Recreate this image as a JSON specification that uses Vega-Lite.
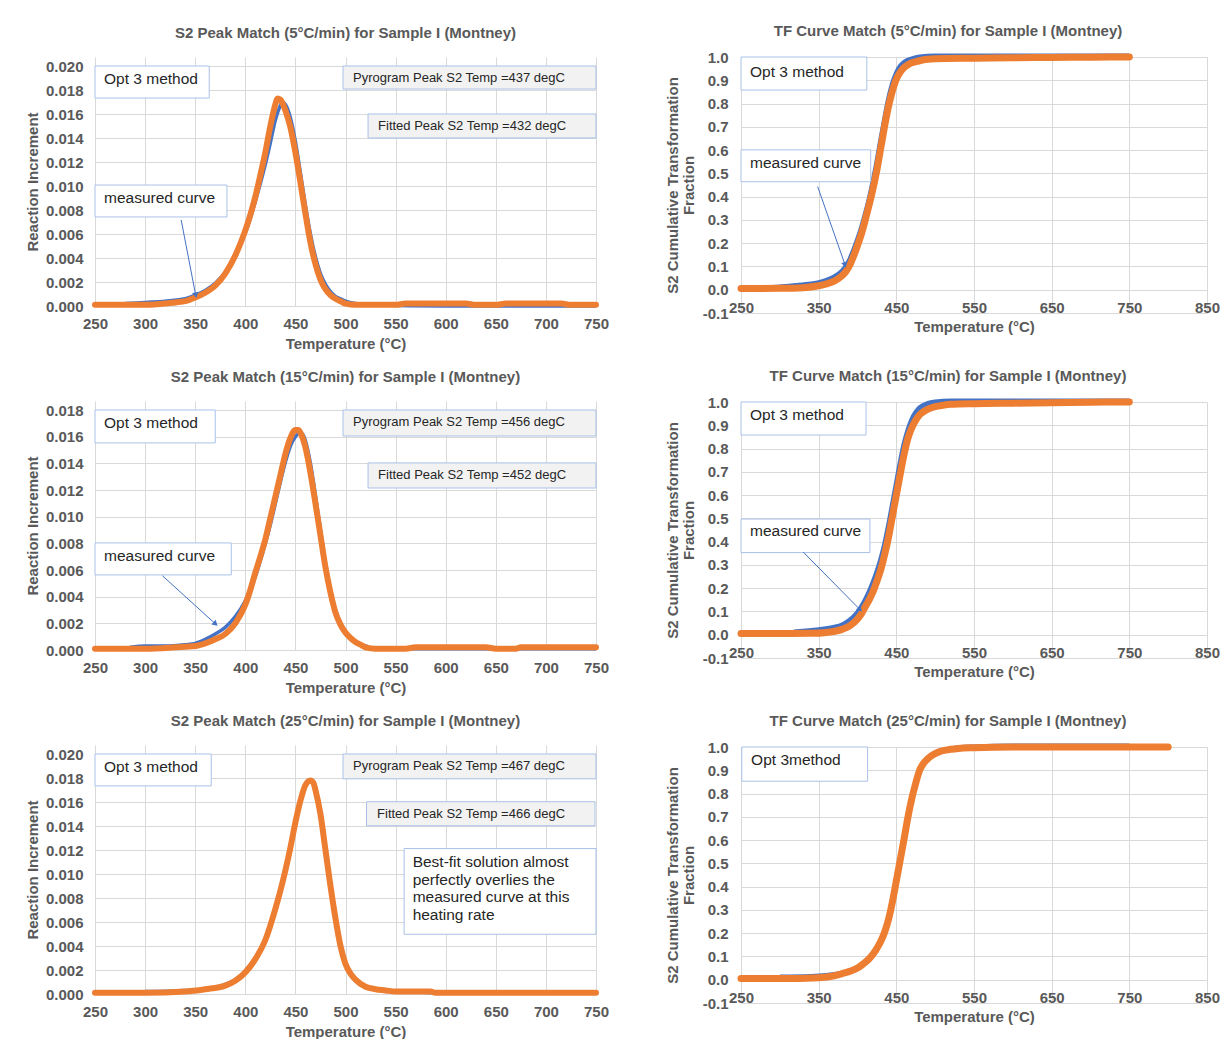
{
  "$schema": "https://vega.github.io/schema/vega-lite/v6.json",
  "background": "white",
  "padding": {"left": 25, "top": 24, "right": 0, "bottom": 0},
  "config": {
    "font": "Liberation Sans",
    "view": {"stroke": null},
    "axis": {"grid": true, "gridColor": "#D9D9D9", "gridWidth": 1, "domain": false, "ticks": false, "labelFlush": false, "labelFont": "Liberation Sans", "labelFontWeight": "bold", "labelFontSize": 15, "labelColor": "#595959", "titleFont": "Liberation Sans", "titleFontSize": 15, "titleFontWeight": "bold", "titleColor": "#595959"},
    "title": {"font": "Liberation Sans", "fontSize": 15, "fontWeight": "bold", "color": "#595959"}
  },
  "datasets": {
    "L5_fitted": [{"temp":250,"value":0.0001},{"temp":275,"value":0.0001},{"temp":300,"value":0.0001},{"temp":320,"value":0.0002},{"temp":330,"value":0.0003},{"temp":340,"value":0.0004},{"temp":350,"value":0.0007},{"temp":360,"value":0.0011},{"temp":370,"value":0.0017},{"temp":380,"value":0.0027},{"temp":390,"value":0.0042},{"temp":400,"value":0.0063},{"temp":405,"value":0.0076},{"temp":410,"value":0.0091},{"temp":415,"value":0.0109},{"temp":420,"value":0.0128},{"temp":425,"value":0.0150},{"temp":430,"value":0.0168},{"temp":432,"value":0.0173},{"temp":435,"value":0.0172},{"temp":440,"value":0.0163},{"temp":445,"value":0.0149},{"temp":450,"value":0.0128},{"temp":455,"value":0.0103},{"temp":460,"value":0.0077},{"temp":465,"value":0.0053},{"temp":470,"value":0.0035},{"temp":475,"value":0.0022},{"temp":480,"value":0.0014},{"temp":485,"value":0.0009},{"temp":490,"value":0.0006},{"temp":495,"value":0.0004},{"temp":500,"value":0.0002},{"temp":510,"value":0.0001},{"temp":550,"value":0.0001},{"temp":560,"value":0.0002},{"temp":620,"value":0.0002},{"temp":630,"value":0.0001},{"temp":650,"value":0.0001},{"temp":660,"value":0.0002},{"temp":715,"value":0.0002},{"temp":725,"value":0.0001},{"temp":750,"value":0.0001}],
    "L5_measured": [{"temp":280,"value":0.0002},{"temp":300,"value":0.0003},{"temp":320,"value":0.0004},{"temp":340,"value":0.0006},{"temp":350,"value":0.0009},{"temp":360,"value":0.0013},{"temp":370,"value":0.0019},{"temp":380,"value":0.0028},{"temp":390,"value":0.0042},{"temp":400,"value":0.0061},{"temp":405,"value":0.0073},{"temp":410,"value":0.0087},{"temp":415,"value":0.0102},{"temp":420,"value":0.0118},{"temp":425,"value":0.0136},{"temp":430,"value":0.0155},{"temp":435,"value":0.0167},{"temp":437,"value":0.0170},{"temp":440,"value":0.0168},{"temp":445,"value":0.0157},{"temp":450,"value":0.0137},{"temp":455,"value":0.0111},{"temp":460,"value":0.0084},{"temp":465,"value":0.0060},{"temp":470,"value":0.0041},{"temp":475,"value":0.0027},{"temp":480,"value":0.0018},{"temp":485,"value":0.0012},{"temp":490,"value":0.0008},{"temp":495,"value":0.0006},{"temp":500,"value":0.0004},{"temp":510,"value":0.0002},{"temp":525,"value":0.0001},{"temp":600,"value":0.0000},{"temp":750,"value":0.0000}],
    "L15_fitted": [{"temp":250,"value":0.0001},{"temp":300,"value":0.0001},{"temp":330,"value":0.0002},{"temp":350,"value":0.0003},{"temp":360,"value":0.0005},{"temp":370,"value":0.0008},{"temp":380,"value":0.0012},{"temp":390,"value":0.0020},{"temp":400,"value":0.0034},{"temp":405,"value":0.0045},{"temp":410,"value":0.0058},{"temp":415,"value":0.0070},{"temp":420,"value":0.0083},{"temp":425,"value":0.0099},{"temp":430,"value":0.0115},{"temp":435,"value":0.0131},{"temp":440,"value":0.0147},{"temp":445,"value":0.0159},{"temp":450,"value":0.0165},{"temp":453,"value":0.0165},{"temp":455,"value":0.0163},{"temp":460,"value":0.0152},{"temp":465,"value":0.0133},{"temp":470,"value":0.0110},{"temp":475,"value":0.0086},{"temp":480,"value":0.0062},{"temp":485,"value":0.0043},{"temp":490,"value":0.0028},{"temp":495,"value":0.0019},{"temp":500,"value":0.0013},{"temp":505,"value":0.0009},{"temp":510,"value":0.0006},{"temp":515,"value":0.0004},{"temp":520,"value":0.0002},{"temp":530,"value":0.0001},{"temp":560,"value":0.0001},{"temp":570,"value":0.0002},{"temp":640,"value":0.0002},{"temp":650,"value":0.0001},{"temp":670,"value":0.0001},{"temp":675,"value":0.0002},{"temp":750,"value":0.0002}],
    "L15_measured": [{"temp":285,"value":0.0002},{"temp":300,"value":0.0003},{"temp":320,"value":0.0003},{"temp":340,"value":0.0004},{"temp":350,"value":0.0005},{"temp":360,"value":0.0008},{"temp":370,"value":0.0012},{"temp":380,"value":0.0017},{"temp":390,"value":0.0025},{"temp":400,"value":0.0037},{"temp":410,"value":0.0055},{"temp":420,"value":0.0080},{"temp":425,"value":0.0094},{"temp":430,"value":0.0110},{"temp":435,"value":0.0126},{"temp":440,"value":0.0141},{"temp":445,"value":0.0153},{"temp":450,"value":0.0160},{"temp":455,"value":0.0163},{"temp":458,"value":0.0161},{"temp":460,"value":0.0157},{"temp":465,"value":0.0140},{"temp":470,"value":0.0116},{"temp":475,"value":0.0090},{"temp":480,"value":0.0065},{"temp":485,"value":0.0045},{"temp":490,"value":0.0030},{"temp":495,"value":0.0020},{"temp":500,"value":0.0013},{"temp":510,"value":0.0006},{"temp":520,"value":0.0003},{"temp":530,"value":0.0001},{"temp":750,"value":0.0001}],
    "L25_fitted": [{"temp":250,"value":0.0001},{"temp":300,"value":0.0001},{"temp":340,"value":0.0002},{"temp":360,"value":0.0004},{"temp":380,"value":0.0007},{"temp":390,"value":0.0011},{"temp":400,"value":0.0018},{"temp":410,"value":0.0029},{"temp":420,"value":0.0045},{"temp":430,"value":0.0071},{"temp":435,"value":0.0086},{"temp":440,"value":0.0103},{"temp":445,"value":0.0122},{"temp":450,"value":0.0143},{"temp":455,"value":0.0161},{"temp":460,"value":0.0174},{"temp":465,"value":0.0178},{"temp":468,"value":0.0176},{"temp":470,"value":0.0170},{"temp":475,"value":0.0150},{"temp":480,"value":0.0120},{"temp":485,"value":0.0090},{"temp":490,"value":0.0063},{"temp":495,"value":0.0040},{"temp":500,"value":0.0025},{"temp":505,"value":0.0017},{"temp":510,"value":0.0012},{"temp":520,"value":0.0006},{"temp":530,"value":0.0004},{"temp":540,"value":0.0003},{"temp":550,"value":0.0002},{"temp":585,"value":0.0002},{"temp":590,"value":0.0001},{"temp":750,"value":0.0001}],
    "L25_measured": [{"temp":300,"value":0.0002},{"temp":340,"value":0.0003},{"temp":360,"value":0.0004},{"temp":380,"value":0.0008},{"temp":390,"value":0.0012},{"temp":400,"value":0.0019},{"temp":410,"value":0.0030},{"temp":420,"value":0.0046},{"temp":430,"value":0.0072},{"temp":435,"value":0.0087},{"temp":440,"value":0.0104},{"temp":445,"value":0.0123},{"temp":450,"value":0.0144},{"temp":455,"value":0.0161},{"temp":460,"value":0.0173},{"temp":465,"value":0.0177},{"temp":468,"value":0.0175},{"temp":470,"value":0.0169},{"temp":475,"value":0.0148},{"temp":480,"value":0.0118},{"temp":485,"value":0.0089},{"temp":490,"value":0.0062},{"temp":495,"value":0.0040},{"temp":500,"value":0.0025},{"temp":505,"value":0.0016},{"temp":510,"value":0.0011},{"temp":520,"value":0.0006},{"temp":530,"value":0.0004},{"temp":540,"value":0.0003},{"temp":560,"value":0.0002},{"temp":600,"value":0.0001},{"temp":750,"value":0.0001}],
    "R5_fitted": [{"temp":250,"value":0.005},{"temp":300,"value":0.006},{"temp":330,"value":0.009},{"temp":350,"value":0.017},{"temp":360,"value":0.025},{"temp":370,"value":0.037},{"temp":380,"value":0.06},{"temp":385,"value":0.078},{"temp":390,"value":0.105},{"temp":395,"value":0.145},{"temp":400,"value":0.19},{"temp":405,"value":0.24},{"temp":410,"value":0.3},{"temp":415,"value":0.365},{"temp":420,"value":0.435},{"temp":425,"value":0.515},{"temp":430,"value":0.61},{"temp":435,"value":0.705},{"temp":440,"value":0.79},{"temp":445,"value":0.855},{"temp":450,"value":0.905},{"temp":455,"value":0.935},{"temp":460,"value":0.955},{"temp":465,"value":0.967},{"temp":470,"value":0.975},{"temp":475,"value":0.98},{"temp":480,"value":0.984},{"temp":490,"value":0.99},{"temp":500,"value":0.993},{"temp":550,"value":0.995},{"temp":600,"value":0.997},{"temp":650,"value":0.998},{"temp":700,"value":0.999},{"temp":750,"value":1.0}],
    "R5_measured": [{"temp":290,"value":0.01},{"temp":300,"value":0.012},{"temp":320,"value":0.018},{"temp":340,"value":0.025},{"temp":350,"value":0.03},{"temp":360,"value":0.04},{"temp":370,"value":0.055},{"temp":380,"value":0.08},{"temp":385,"value":0.1},{"temp":390,"value":0.13},{"temp":395,"value":0.17},{"temp":400,"value":0.215},{"temp":405,"value":0.265},{"temp":410,"value":0.325},{"temp":415,"value":0.39},{"temp":420,"value":0.465},{"temp":425,"value":0.55},{"temp":430,"value":0.645},{"temp":435,"value":0.735},{"temp":440,"value":0.82},{"temp":445,"value":0.885},{"temp":450,"value":0.93},{"temp":455,"value":0.96},{"temp":460,"value":0.977},{"temp":470,"value":0.992},{"temp":480,"value":1.0},{"temp":500,"value":1.004},{"temp":750,"value":1.004}],
    "R15_fitted": [{"temp":250,"value":0.005},{"temp":300,"value":0.005},{"temp":340,"value":0.006},{"temp":360,"value":0.01},{"temp":380,"value":0.023},{"temp":390,"value":0.038},{"temp":400,"value":0.068},{"temp":405,"value":0.09},{"temp":410,"value":0.12},{"temp":415,"value":0.15},{"temp":420,"value":0.185},{"temp":425,"value":0.23},{"temp":430,"value":0.28},{"temp":435,"value":0.345},{"temp":440,"value":0.42},{"temp":445,"value":0.51},{"temp":450,"value":0.6},{"temp":455,"value":0.69},{"temp":460,"value":0.775},{"temp":465,"value":0.845},{"temp":470,"value":0.89},{"temp":475,"value":0.922},{"temp":480,"value":0.945},{"temp":490,"value":0.968},{"temp":500,"value":0.98},{"temp":510,"value":0.986},{"temp":520,"value":0.99},{"temp":550,"value":0.993},{"temp":600,"value":0.995},{"temp":650,"value":0.997},{"temp":700,"value":0.999},{"temp":750,"value":1.0}],
    "R15_measured": [{"temp":318,"value":0.012},{"temp":330,"value":0.015},{"temp":350,"value":0.022},{"temp":370,"value":0.032},{"temp":380,"value":0.042},{"temp":390,"value":0.062},{"temp":400,"value":0.095},{"temp":405,"value":0.12},{"temp":410,"value":0.15},{"temp":415,"value":0.185},{"temp":420,"value":0.225},{"temp":425,"value":0.27},{"temp":430,"value":0.325},{"temp":435,"value":0.39},{"temp":440,"value":0.47},{"temp":445,"value":0.56},{"temp":450,"value":0.65},{"temp":455,"value":0.74},{"temp":460,"value":0.82},{"temp":465,"value":0.88},{"temp":470,"value":0.925},{"temp":475,"value":0.955},{"temp":480,"value":0.975},{"temp":490,"value":0.993},{"temp":500,"value":1.0},{"temp":520,"value":1.004},{"temp":750,"value":1.004}],
    "R25_fitted": [{"temp":250,"value":0.005},{"temp":300,"value":0.005},{"temp":350,"value":0.009},{"temp":370,"value":0.017},{"temp":380,"value":0.026},{"temp":390,"value":0.036},{"temp":400,"value":0.05},{"temp":410,"value":0.075},{"temp":415,"value":0.09},{"temp":420,"value":0.11},{"temp":425,"value":0.135},{"temp":430,"value":0.165},{"temp":435,"value":0.205},{"temp":440,"value":0.26},{"temp":445,"value":0.335},{"temp":450,"value":0.425},{"temp":455,"value":0.515},{"temp":460,"value":0.605},{"temp":465,"value":0.7},{"temp":470,"value":0.78},{"temp":475,"value":0.845},{"temp":480,"value":0.9},{"temp":485,"value":0.93},{"temp":490,"value":0.948},{"temp":495,"value":0.962},{"temp":500,"value":0.972},{"temp":505,"value":0.979},{"temp":510,"value":0.984},{"temp":520,"value":0.99},{"temp":530,"value":0.994},{"temp":550,"value":0.997},{"temp":600,"value":1.0},{"temp":800,"value":1.0}],
    "R25_measured": [{"temp":300,"value":0.012},{"temp":340,"value":0.014},{"temp":360,"value":0.018},{"temp":380,"value":0.028},{"temp":400,"value":0.053},{"temp":410,"value":0.078},{"temp":420,"value":0.112},{"temp":430,"value":0.168},{"temp":440,"value":0.262},{"temp":445,"value":0.337},{"temp":450,"value":0.428},{"temp":455,"value":0.518},{"temp":460,"value":0.607},{"temp":465,"value":0.7},{"temp":470,"value":0.78},{"temp":475,"value":0.846},{"temp":480,"value":0.9},{"temp":490,"value":0.95},{"temp":500,"value":0.974},{"temp":520,"value":0.992},{"temp":550,"value":1.0},{"temp":600,"value":1.004},{"temp":750,"value":1.004}],
    "boxes": [
      {"panel":"L5","kind":"note","temp":250,"temp2":364,"value":0.02,"value2":0.01733},
      {"panel":"L5","kind":"readout","temp":497.5,"temp2":750,"value":0.02,"value2":0.01808},
      {"panel":"L5","kind":"readout","temp":522.5,"temp2":750,"value":0.016,"value2":0.014},
      {"panel":"L5","kind":"note","temp":250,"temp2":381.7,"value":0.01008,"value2":0.00742},
      {"panel":"L15","kind":"note","temp":250,"temp2":370,"value":0.018,"value2":0.01553},
      {"panel":"L15","kind":"readout","temp":497.5,"temp2":750,"value":0.018,"value2":0.01605},
      {"panel":"L15","kind":"readout","temp":522.5,"temp2":750,"value":0.01403,"value2":0.01215},
      {"panel":"L15","kind":"note","temp":250,"temp2":386,"value":0.00803,"value2":0.00563},
      {"panel":"L25","kind":"note","temp":250,"temp2":366,"value":0.02,"value2":0.01734},
      {"panel":"L25","kind":"readout","temp":497.5,"temp2":750,"value":0.02,"value2":0.01793},
      {"panel":"L25","kind":"readout","temp":521,"temp2":749,"value":0.01602,"value2":0.01402},
      {"panel":"L25","kind":"note","temp":558.5,"temp2":750,"value":0.01212,"value2":0.00498},
      {"panel":"R5","kind":"note","temp":250,"temp2":412,"value":1.0,"value2":0.858},
      {"panel":"R5","kind":"note","temp":250,"temp2":417,"value":0.601,"value2":0.464},
      {"panel":"R15","kind":"note","temp":250,"temp2":411,"value":1.0,"value2":0.858},
      {"panel":"R15","kind":"note","temp":250,"temp2":416,"value":0.497,"value2":0.353},
      {"panel":"R25","kind":"note","temp":251,"temp2":413,"value":1.0,"value2":0.853}
    ],
    "notes": [
      {"panel":"L5","kind":"note","temp":259,"value":0.0189,"text":"Opt 3 method"},
      {"panel":"L5","kind":"note","temp":259,"value":0.009,"text":"measured curve"},
      {"panel":"L5","kind":"readout","temp":507.5,"value":0.019,"text":"Pyrogram Peak S2 Temp =437 degC"},
      {"panel":"L5","kind":"readout","temp":532.5,"value":0.015,"text":"Fitted Peak S2 Temp =432 degC"},
      {"panel":"L15","kind":"note","temp":259,"value":0.01702,"text":"Opt 3 method"},
      {"panel":"L15","kind":"note","temp":259,"value":0.00705,"text":"measured curve"},
      {"panel":"L15","kind":"readout","temp":507.5,"value":0.0171,"text":"Pyrogram Peak S2 Temp =456 degC"},
      {"panel":"L15","kind":"readout","temp":532.5,"value":0.01312,"text":"Fitted Peak S2 Temp =452 degC"},
      {"panel":"L25","kind":"note","temp":259,"value":0.01892,"text":"Opt 3 method"},
      {"panel":"L25","kind":"readout","temp":507.5,"value":0.019,"text":"Pyrogram Peak S2 Temp =467 degC"},
      {"panel":"L25","kind":"readout","temp":531.5,"value":0.01502,"text":"Fitted Peak S2 Temp =466 degC"},
      {"panel":"L25","kind":"note","temp":567,"value":0.01104,"text":"Best-fit solution almost"},
      {"panel":"L25","kind":"note","temp":567,"value":0.00954,"text":"perfectly overlies the"},
      {"panel":"L25","kind":"note","temp":567,"value":0.00805,"text":"measured curve at this"},
      {"panel":"L25","kind":"note","temp":567,"value":0.00656,"text":"heating rate"},
      {"panel":"R5","kind":"note","temp":261.6,"value":0.936,"text":"Opt 3 method"},
      {"panel":"R5","kind":"note","temp":261.6,"value":0.545,"text":"measured curve"},
      {"panel":"R15","kind":"note","temp":261.6,"value":0.944,"text":"Opt 3 method"},
      {"panel":"R15","kind":"note","temp":261.6,"value":0.444,"text":"measured curve"},
      {"panel":"R25","kind":"note","temp":263,"value":0.944,"text":"Opt 3method"}
    ],
    "arrows": [
      {"panel":"L5","temp2":336,"value2":0.00717,"temp":350.5,"value":0.0009},
      {"panel":"L15","temp2":317.3,"value2":0.00557,"temp":370.3,"value":0.00195},
      {"panel":"R5","temp2":348.7,"value2":0.443,"temp":384,"value":0.107},
      {"panel":"R15","temp2":330.2,"value2":0.355,"temp":403.2,"value":0.108}
    ]
  },
  "spacing": 56,
  "hconcat": [
    {
      "spacing": 19,
      "vconcat": [
        {
          "width": 501, "height": 249,
          "title": {"text": "S2 Peak Match (5°C/min) for Sample I (Montney)", "offset": 16, "frame": "group"},
          "encoding": {
            "x": {"field": "temp", "type": "quantitative", "scale": {"domain": [250, 750], "nice": false, "zero": false}, "axis": {"values": [250,300,350,400,450,500,550,600,650,700,750], "title": "Temperature (°C)", "labelPadding": 10, "titlePadding": 5}},
            "y": {"field": "value", "type": "quantitative", "scale": {"domain": [0, 0.02075], "nice": false}, "axis": {"values": [0,0.002,0.004,0.006,0.008,0.01,0.012,0.014,0.016,0.018,0.02], "format": ".3f", "title": "Reaction Increment", "labelPadding": 12, "titlePadding": 5}}
          },
          "layer": [
            {"data": {"name": "L5_measured"}, "mark": {"type": "line", "color": "#4472C4", "strokeWidth": 3.5, "interpolate": "monotone"}},
            {"data": {"name": "L5_fitted"}, "mark": {"type": "line", "color": "#ED7D31", "strokeWidth": 6, "strokeCap": "round", "strokeJoin": "round", "interpolate": "monotone"}},
            {"data": {"name": "boxes"}, "transform": [{"filter": "datum.panel === 'L5'"}], "mark": {"type": "rect", "stroke": "#A9C1E8", "strokeWidth": 1}, "encoding": {"x2": {"field": "temp2"}, "y2": {"field": "value2"}, "fill": {"field": "kind", "type": "nominal", "scale": {"domain": ["note", "readout"], "range": ["#FFFFFF", "#F2F2F2"]}, "legend": null}}},
            {"data": {"name": "notes"}, "transform": [{"filter": "datum.panel === 'L5' && datum.kind === 'note'"}], "mark": {"type": "text", "align": "left", "baseline": "middle", "fontSize": 15.5, "color": "#262626"}, "encoding": {"text": {"field": "text"}}},
            {"data": {"name": "notes"}, "transform": [{"filter": "datum.panel === 'L5' && datum.kind === 'readout'"}], "mark": {"type": "text", "align": "left", "baseline": "middle", "fontSize": 13, "color": "#262626"}, "encoding": {"text": {"field": "text"}}},
            {"data": {"name": "arrows"}, "transform": [{"filter": "datum.panel === 'L5'"}], "mark": {"type": "rule", "color": "#4472C4", "strokeWidth": 1}, "encoding": {"x2": {"field": "temp2"}, "y2": {"field": "value2"}}},
            {"data": {"name": "arrows"}, "transform": [{"filter": "datum.panel === 'L5'"}], "mark": {"type": "point", "shape": "triangle-up", "filled": true, "color": "#4472C4", "size": 40, "angle": 169, "opacity": 1}}
          ]
        },
        {
          "width": 501, "height": 249,
          "title": {"text": "S2 Peak Match (15°C/min) for Sample I (Montney)", "offset": 16, "frame": "group"},
          "encoding": {
            "x": {"field": "temp", "type": "quantitative", "scale": {"domain": [250, 750], "nice": false, "zero": false}, "axis": {"values": [250,300,350,400,450,500,550,600,650,700,750], "title": "Temperature (°C)", "labelPadding": 10, "titlePadding": 5}},
            "y": {"field": "value", "type": "quantitative", "scale": {"domain": [0, 0.018675], "nice": false}, "axis": {"values": [0,0.002,0.004,0.006,0.008,0.01,0.012,0.014,0.016,0.018], "format": ".3f", "title": "Reaction Increment", "labelPadding": 12, "titlePadding": 5}}
          },
          "layer": [
            {"data": {"name": "L15_measured"}, "mark": {"type": "line", "color": "#4472C4", "strokeWidth": 3.5, "interpolate": "monotone"}},
            {"data": {"name": "L15_fitted"}, "mark": {"type": "line", "color": "#ED7D31", "strokeWidth": 6, "strokeCap": "round", "strokeJoin": "round", "interpolate": "monotone"}},
            {"data": {"name": "boxes"}, "transform": [{"filter": "datum.panel === 'L15'"}], "mark": {"type": "rect", "stroke": "#A9C1E8", "strokeWidth": 1}, "encoding": {"x2": {"field": "temp2"}, "y2": {"field": "value2"}, "fill": {"field": "kind", "type": "nominal", "scale": {"domain": ["note", "readout"], "range": ["#FFFFFF", "#F2F2F2"]}, "legend": null}}},
            {"data": {"name": "notes"}, "transform": [{"filter": "datum.panel === 'L15' && datum.kind === 'note'"}], "mark": {"type": "text", "align": "left", "baseline": "middle", "fontSize": 15.5, "color": "#262626"}, "encoding": {"text": {"field": "text"}}},
            {"data": {"name": "notes"}, "transform": [{"filter": "datum.panel === 'L15' && datum.kind === 'readout'"}], "mark": {"type": "text", "align": "left", "baseline": "middle", "fontSize": 13, "color": "#262626"}, "encoding": {"text": {"field": "text"}}},
            {"data": {"name": "arrows"}, "transform": [{"filter": "datum.panel === 'L15'"}], "mark": {"type": "rule", "color": "#4472C4", "strokeWidth": 1}, "encoding": {"x2": {"field": "temp2"}, "y2": {"field": "value2"}}},
            {"data": {"name": "arrows"}, "transform": [{"filter": "datum.panel === 'L15'"}], "mark": {"type": "point", "shape": "triangle-up", "filled": true, "color": "#4472C4", "size": 40, "angle": 132, "opacity": 1}}
          ]
        },
        {
          "width": 501, "height": 249,
          "title": {"text": "S2 Peak Match (25°C/min) for Sample I (Montney)", "offset": 16, "frame": "group"},
          "encoding": {
            "x": {"field": "temp", "type": "quantitative", "scale": {"domain": [250, 750], "nice": false, "zero": false}, "axis": {"values": [250,300,350,400,450,500,550,600,650,700,750], "title": "Temperature (°C)", "labelPadding": 10, "titlePadding": 5}},
            "y": {"field": "value", "type": "quantitative", "scale": {"domain": [0, 0.02075], "nice": false}, "axis": {"values": [0,0.002,0.004,0.006,0.008,0.01,0.012,0.014,0.016,0.018,0.02], "format": ".3f", "title": "Reaction Increment", "labelPadding": 12, "titlePadding": 5}}
          },
          "layer": [
            {"data": {"name": "L25_measured"}, "mark": {"type": "line", "color": "#4472C4", "strokeWidth": 3.5, "interpolate": "monotone"}},
            {"data": {"name": "L25_fitted"}, "mark": {"type": "line", "color": "#ED7D31", "strokeWidth": 6, "strokeCap": "round", "strokeJoin": "round", "interpolate": "monotone"}},
            {"data": {"name": "boxes"}, "transform": [{"filter": "datum.panel === 'L25'"}], "mark": {"type": "rect", "stroke": "#A9C1E8", "strokeWidth": 1}, "encoding": {"x2": {"field": "temp2"}, "y2": {"field": "value2"}, "fill": {"field": "kind", "type": "nominal", "scale": {"domain": ["note", "readout"], "range": ["#FFFFFF", "#F2F2F2"]}, "legend": null}}},
            {"data": {"name": "notes"}, "transform": [{"filter": "datum.panel === 'L25' && datum.kind === 'note'"}], "mark": {"type": "text", "align": "left", "baseline": "middle", "fontSize": 15.5, "color": "#262626"}, "encoding": {"text": {"field": "text"}}},
            {"data": {"name": "notes"}, "transform": [{"filter": "datum.panel === 'L25' && datum.kind === 'readout'"}], "mark": {"type": "text", "align": "left", "baseline": "middle", "fontSize": 13, "color": "#262626"}, "encoding": {"text": {"field": "text"}}}
          ]
        }
      ]
    },
    {
      "spacing": 35,
      "vconcat": [
        {
          "width": 466, "height": 256,
          "title": {"text": "TF Curve Match (5°C/min) for Sample I (Montney)", "offset": 0, "frame": "group", "dx": -26, "dy": -7},
          "encoding": {
            "x": {"field": "temp", "type": "quantitative", "scale": {"domain": [250, 850], "nice": false, "zero": false}, "axis": {"values": [250,350,450,550,650,750,850], "title": "Temperature (°C)", "labelPadding": -13, "titlePadding": 4}},
            "y": {"field": "value", "type": "quantitative", "scale": {"domain": [-0.1, 1.0], "nice": false, "zero": false}, "axis": {"values": [-0.1,0,0.1,0.2,0.3,0.4,0.5,0.6,0.7,0.8,0.9,1.0], "format": ".1f", "labelExpr": "replace(datum.label, '−', '-')", "title": ["S2 Cumulative Transformation", "Fraction"], "titleLineHeight": 16, "labelPadding": 13, "titlePadding": 6}}
          },
          "layer": [
            {"data": {"name": "R5_measured"}, "mark": {"type": "line", "color": "#4472C4", "strokeWidth": 5, "interpolate": "monotone"}},
            {"data": {"name": "R5_fitted"}, "mark": {"type": "line", "color": "#ED7D31", "strokeWidth": 7, "strokeCap": "round", "strokeJoin": "round", "interpolate": "monotone"}},
            {"data": {"name": "boxes"}, "transform": [{"filter": "datum.panel === 'R5'"}], "mark": {"type": "rect", "stroke": "#A9C1E8", "strokeWidth": 1}, "encoding": {"x2": {"field": "temp2"}, "y2": {"field": "value2"}, "fill": {"field": "kind", "type": "nominal", "scale": {"domain": ["note", "readout"], "range": ["#FFFFFF", "#F2F2F2"]}, "legend": null}}},
            {"data": {"name": "notes"}, "transform": [{"filter": "datum.panel === 'R5'"}], "mark": {"type": "text", "align": "left", "baseline": "middle", "fontSize": 15.5, "color": "#262626"}, "encoding": {"text": {"field": "text"}}},
            {"data": {"name": "arrows"}, "transform": [{"filter": "datum.panel === 'R5'"}], "mark": {"type": "rule", "color": "#4472C4", "strokeWidth": 1}, "encoding": {"x2": {"field": "temp2"}, "y2": {"field": "value2"}}},
            {"data": {"name": "arrows"}, "transform": [{"filter": "datum.panel === 'R5'"}], "mark": {"type": "point", "shape": "triangle-up", "filled": true, "color": "#4472C4", "size": 40, "angle": 161, "opacity": 1}}
          ]
        },
        {
          "width": 466, "height": 256,
          "title": {"text": "TF Curve Match (15°C/min) for Sample I (Montney)", "offset": 0, "frame": "group", "dx": -26, "dy": -7},
          "encoding": {
            "x": {"field": "temp", "type": "quantitative", "scale": {"domain": [250, 850], "nice": false, "zero": false}, "axis": {"values": [250,350,450,550,650,750,850], "title": "Temperature (°C)", "labelPadding": -13, "titlePadding": 4}},
            "y": {"field": "value", "type": "quantitative", "scale": {"domain": [-0.1, 1.0], "nice": false, "zero": false}, "axis": {"values": [-0.1,0,0.1,0.2,0.3,0.4,0.5,0.6,0.7,0.8,0.9,1.0], "format": ".1f", "labelExpr": "replace(datum.label, '−', '-')", "title": ["S2 Cumulative Transformation", "Fraction"], "titleLineHeight": 16, "labelPadding": 13, "titlePadding": 6}}
          },
          "layer": [
            {"data": {"name": "R15_measured"}, "mark": {"type": "line", "color": "#4472C4", "strokeWidth": 5, "interpolate": "monotone"}},
            {"data": {"name": "R15_fitted"}, "mark": {"type": "line", "color": "#ED7D31", "strokeWidth": 7, "strokeCap": "round", "strokeJoin": "round", "interpolate": "monotone"}},
            {"data": {"name": "boxes"}, "transform": [{"filter": "datum.panel === 'R15'"}], "mark": {"type": "rect", "stroke": "#A9C1E8", "strokeWidth": 1}, "encoding": {"x2": {"field": "temp2"}, "y2": {"field": "value2"}, "fill": {"field": "kind", "type": "nominal", "scale": {"domain": ["note", "readout"], "range": ["#FFFFFF", "#F2F2F2"]}, "legend": null}}},
            {"data": {"name": "notes"}, "transform": [{"filter": "datum.panel === 'R15'"}], "mark": {"type": "text", "align": "left", "baseline": "middle", "fontSize": 15.5, "color": "#262626"}, "encoding": {"text": {"field": "text"}}},
            {"data": {"name": "arrows"}, "transform": [{"filter": "datum.panel === 'R15'"}], "mark": {"type": "rule", "color": "#4472C4", "strokeWidth": 1}, "encoding": {"x2": {"field": "temp2"}, "y2": {"field": "value2"}}},
            {"data": {"name": "arrows"}, "transform": [{"filter": "datum.panel === 'R15'"}], "mark": {"type": "point", "shape": "triangle-up", "filled": true, "color": "#4472C4", "size": 40, "angle": 135, "opacity": 1}}
          ]
        },
        {
          "width": 466, "height": 256,
          "title": {"text": "TF Curve Match (25°C/min) for Sample I (Montney)", "offset": 0, "frame": "group", "dx": -26, "dy": -7},
          "encoding": {
            "x": {"field": "temp", "type": "quantitative", "scale": {"domain": [250, 850], "nice": false, "zero": false}, "axis": {"values": [250,350,450,550,650,750,850], "title": "Temperature (°C)", "labelPadding": -13, "titlePadding": 4}},
            "y": {"field": "value", "type": "quantitative", "scale": {"domain": [-0.1, 1.0], "nice": false, "zero": false}, "axis": {"values": [-0.1,0,0.1,0.2,0.3,0.4,0.5,0.6,0.7,0.8,0.9,1.0], "format": ".1f", "labelExpr": "replace(datum.label, '−', '-')", "title": ["S2 Cumulative Transformation", "Fraction"], "titleLineHeight": 16, "labelPadding": 13, "titlePadding": 6}}
          },
          "layer": [
            {"data": {"name": "R25_measured"}, "mark": {"type": "line", "color": "#4472C4", "strokeWidth": 5, "interpolate": "monotone"}},
            {"data": {"name": "R25_fitted"}, "mark": {"type": "line", "color": "#ED7D31", "strokeWidth": 7, "strokeCap": "round", "strokeJoin": "round", "interpolate": "monotone"}},
            {"data": {"name": "boxes"}, "transform": [{"filter": "datum.panel === 'R25'"}], "mark": {"type": "rect", "stroke": "#A9C1E8", "strokeWidth": 1}, "encoding": {"x2": {"field": "temp2"}, "y2": {"field": "value2"}, "fill": {"field": "kind", "type": "nominal", "scale": {"domain": ["note", "readout"], "range": ["#FFFFFF", "#F2F2F2"]}, "legend": null}}},
            {"data": {"name": "notes"}, "transform": [{"filter": "datum.panel === 'R25'"}], "mark": {"type": "text", "align": "left", "baseline": "middle", "fontSize": 15.5, "color": "#262626"}, "encoding": {"text": {"field": "text"}}}
          ]
        }
      ]
    }
  ]
}
